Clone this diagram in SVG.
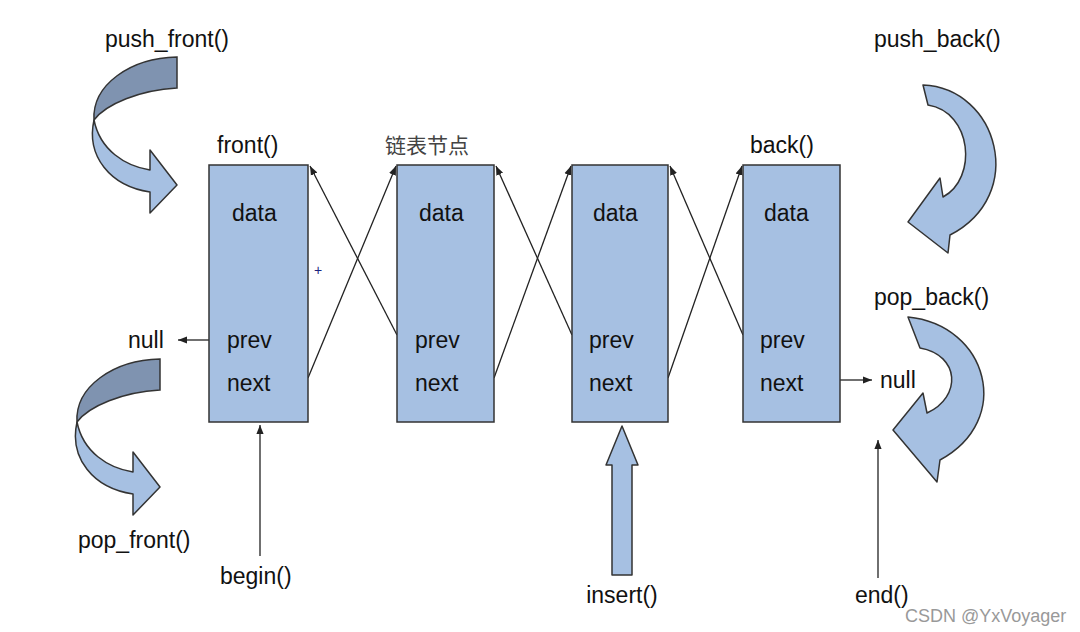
<svg xmlns="http://www.w3.org/2000/svg" xmlns:xlink="http://www.w3.org/1999/xlink" width="1080" height="632" viewBox="0 0 1080 632">
<style>
text{font-family:"Liberation Sans",Arial,sans-serif;font-size:23px;fill:#111}
.node{fill:#a6c0e2;stroke:#333;stroke-width:1.5}
.ln{stroke:#222;stroke-width:1.3;fill:none}
.big{fill:#a6c0e2;stroke:#333;stroke-width:1.5;stroke-linejoin:round}
.dark{fill:#7f93b0;stroke:#333;stroke-width:1.5}
</style>
<defs>
<marker id="ah" viewBox="0 0 10 10" refX="10" refY="5" markerWidth="7" markerHeight="7" orient="auto"><path d="M0,1 L10,5 L0,9 Z" fill="#222"/></marker>
<g id="twist">
<path class="big" d="M94,120 C100,150 125,166 150,170 L150,150 L177,185 L150,213 L150,192 C110,186 86,156 94,120 Z"/>
<path class="dark" d="M177,57 L177,88 C140,90 106,104 94,120 C92,85 130,58 177,57 Z"/>
</g>
</defs>
<rect width="1080" height="632" fill="#fff"/>
<g id="connectors">
<path class="ln" d="M308,378 L396,166" marker-end="url(#ah)"/>
<path class="ln" d="M397,335 L310,166" marker-end="url(#ah)"/>
<path class="ln" d="M494,378 L571,166" marker-end="url(#ah)"/>
<path class="ln" d="M572,335 L496,166" marker-end="url(#ah)"/>
<path class="ln" d="M668,378 L742,166" marker-end="url(#ah)"/>
<path class="ln" d="M743,335 L670,166" marker-end="url(#ah)"/>
<path class="ln" d="M209,340 L178,340" marker-end="url(#ah)"/>
<path class="ln" d="M840,380 L872,380" marker-end="url(#ah)"/>
<path class="ln" d="M260,556 L260,425" marker-end="url(#ah)"/>
<path class="ln" d="M878,578 L878,440" marker-end="url(#ah)"/>
</g>
<g id="node1"><rect class="node" x="209" y="165" width="99" height="257"/><text x="232" y="221">data</text><text x="227" y="348">prev</text><text x="227" y="391">next</text></g>
<g id="node2"><rect class="node" x="397" y="165" width="97" height="257"/><text x="419" y="221">data</text><text x="415" y="348">prev</text><text x="415" y="391">next</text></g>
<g id="node3"><rect class="node" x="572" y="165" width="96" height="257"/><text x="593" y="221">data</text><text x="589" y="348">prev</text><text x="589" y="391">next</text></g>
<g id="node4"><rect class="node" x="743" y="165" width="97" height="257"/><text x="764" y="221">data</text><text x="760" y="348">prev</text><text x="760" y="391">next</text></g>
<g id="push_front"><use xlink:href="#twist"/><text x="105" y="47">push_front()</text></g>
<g id="pop_front"><use xlink:href="#twist" transform="translate(-17,302)"/><text x="78" y="548">pop_front()</text></g>
<g id="push_back"><path class="big" d="M923,85 C998,88 1028,195 950,235 L948,253 L908,222 L940,178 L943,197 C978,178 972,112 928,105 Z"/><text x="874" y="47">push_back()</text></g>
<g id="pop_back"><path class="big" d="M908,317 C988,325 1014,420 940,460 L937,482 L893,430 L923,393 L927,413 C962,397 960,355 920,348 Z"/><text x="874" y="305">pop_back()</text></g>
<g id="insert"><path class="big" d="M612,575 L612,465 L606,465 L622,426 L638,465 L632,465 L632,575 Z"/><text x="622" y="603" text-anchor="middle">insert()</text></g>
<text x="217" y="153">front()</text>
<text x="385" y="153" style="fill:#444;font-family:'Noto Sans CJK SC',sans-serif;font-size:21px">链表节点</text>
<text x="750" y="153">back()</text>
<text x="128" y="348">null</text>
<text x="880" y="388">null</text>
<text x="220" y="584">begin()</text>
<text x="855" y="603">end()</text>
<text x="314" y="275" style="fill:#1a237e;font-size:14px">+</text>
<text x="905" y="622" style="fill:#999;font-size:18px">CSDN @YxVoyager</text>
</svg>
